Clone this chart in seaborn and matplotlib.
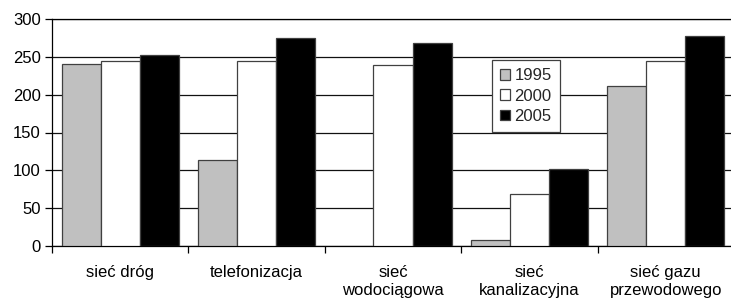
import matplotlib
matplotlib.use("Agg")
import pandas as pd
import matplotlib.pyplot as plt
import seaborn as sns

# Values
categories = ["sieć dróg", "telefonizacja", "sieć\nwodociągowa",
              "sieć\nkanalizacyjna", "sieć gazu\nprzewodowego"]
years = ["1995", "2000", "2005"]
v1995 = [241, 114, 0, 8, 212]
v2000 = [244, 245, 239, 69, 245]
v2005 = [252, 275, 268, 102, 277]

df = pd.DataFrame({
    "kategoria": categories * 3,
    "rok": [y for y in years for _ in categories],
    "wartosc": v1995 + v2000 + v2005,
})

sns.set_theme(style="white")
plt.rcParams["font.family"] = ["Liberation Sans", "DejaVu Sans"]
plt.rcParams["font.size"] = 12

fig = plt.figure(figsize=(7.31, 3.02), dpi=100)
ax = fig.add_axes([52 / 731, 56 / 302, 1 - 52 / 731 + 0.004, (246 - 19) / 302])

palette = {"1995": "#c0c0c0", "2000": "#ffffff", "2005": "#000000"}
sns.barplot(data=df, x="kategoria", y="wartosc", hue="rok", palette=palette,
            width=0.86, gap=0, edgecolor="#404040", linewidth=0.9,
            saturation=1, ax=ax, zorder=3)

# empty bars (value 0) are not drawn in the original
for cont in ax.containers:
    for p in cont:
        if p.get_height() == 0:
            p.set_visible(False)

ax.set_xlim(-0.5, 4.5)
ax.set_ylim(0, 300)
ax.set_yticks(range(0, 301, 50))
ax.set_xlabel("")
ax.set_ylabel("")

# category labels centred, tick marks at the boundaries
ax.set_xticks(range(len(categories)))
ax.set_xticklabels(categories, fontsize=12, color="black", va="top",
                   linespacing=1.25)
ax.set_xticks([i - 0.5 for i in range(len(categories) + 1)], minor=True)
ax.tick_params(axis="x", which="major", length=0, pad=14)
ax.tick_params(axis="x", which="minor", length=5, width=0.9, color="black",
               direction="out", bottom=True)
ax.tick_params(axis="y", length=5, width=0.9, color="black", direction="out",
               left=True, labelsize=12, labelcolor="black", pad=3)

ax.yaxis.grid(True, color="#111111", linewidth=0.9)
ax.set_axisbelow(True)
for side in ["left", "bottom", "top"]:
    ax.spines[side].set_color("black")
    ax.spines[side].set_linewidth(0.9)
ax.spines["right"].set_visible(False)

leg = ax.legend(loc="upper left", bbox_to_anchor=(0.645, 0.82),
                borderaxespad=0, fancybox=False, framealpha=1,
                edgecolor="#404040", fontsize=12, handlelength=0.6,
                handleheight=0.6, handletextpad=0.25, labelspacing=0.32,
                borderpad=0.5, title=None)
leg.get_frame().set_linewidth(0.9)

fig.savefig("out.png", dpi=100)
